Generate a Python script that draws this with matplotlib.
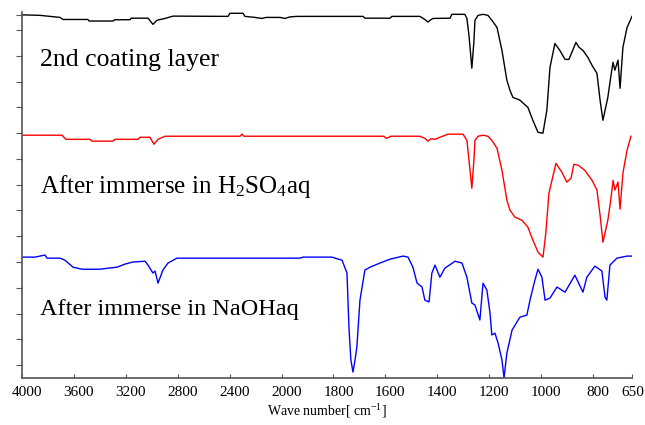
import numpy as np
import matplotlib
matplotlib.use("Agg")
import matplotlib.pyplot as plt
from matplotlib.transforms import ScaledTranslation

plt.rcParams['font.family'] = ['Liberation Serif', 'DejaVu Serif']
plt.rcParams['mathtext.fontset'] = 'custom'
plt.rcParams['mathtext.rm'] = 'Liberation Serif'
plt.rcParams['mathtext.it'] = 'Liberation Serif:italic'

# ------------------------------ Datos ------------------------------
# 2nd coating layer
wn_coat = [4000, 3861, 3784, 3707, 3684, 3492, 3484, 3299, 3284, 3168, 3160, 3029, 2991,
           2960, 2898, 2837, 2413, 2398, 2297, 2282, 2205, 2151, 2120, 2012, 1987, 1968,
           1941, 1686, 1679, 1582, 1575, 1467, 1448, 1436, 1428, 1417, 1351, 1344, 1294,
           1286, 1278, 1267, 1259, 1255, 1243, 1224, 1205, 1190, 1170, 1151, 1132, 1120,
           1109, 1082, 1051, 1032, 1012, 993, 978, 966, 947, 928, 908, 893, 866, 854, 839,
           820, 804, 785, 773, 762, 743, 731, 723, 716, 704, 696, 685, 669, 650]
t_coat = [140.9, 140.7, 140.3, 139.9, 139.1, 139.1, 138.5, 138.5, 139.0, 139.0, 139.6, 139.6,
          137.2, 138.8, 139.5, 140.4, 140.3, 141.5, 141.5, 140.3, 139.9, 139.5, 139.9, 139.9,
          139.5, 140.1, 140.3, 140.3, 139.6, 139.6, 140.3, 140.3, 139.1, 138.1, 138.8, 139.5,
          139.6, 141.1, 141.1, 139.5, 132.9, 120.2, 130.6, 138.8, 140.7, 141.1, 140.7, 138.8,
          136.0, 127.1, 115.5, 111.6, 108.9, 107.8, 105.0, 100.0, 95.3, 95.0, 103.9, 120.5,
          129.8, 127.1, 123.6, 123.6, 130.2, 128.3, 127.1, 124.4, 121.3, 118.2, 107.8, 100.0,
          108.9, 117.4, 122.5, 119.4, 123.3, 112.4, 128.3, 136.0, 140.3]

# After immerse in H2SO4aq
wn_acid = [4000, 3692, 3661, 3476, 3461, 3299, 3284, 3106, 3091, 3014, 2983, 2952, 2898,
           2321, 2305, 2290, 1606, 1598, 1586, 1579, 1467, 1448, 1436, 1425, 1409, 1390,
           1359, 1301, 1286, 1278, 1267, 1259, 1255, 1243, 1224, 1205, 1190, 1170, 1151,
           1132, 1120, 1101, 1074, 1051, 1032, 1012, 993, 982, 970, 943, 920, 901, 885,
           874, 858, 832, 804, 785, 773, 762, 743, 731, 723, 716, 704, 696, 685, 669, 654]
t_acid = [94.2, 94.2, 92.6, 92.6, 91.9, 91.9, 92.6, 92.6, 93.4, 93.4, 90.7, 92.6, 93.8,
          93.8, 94.6, 93.8, 93.8, 93.0, 93.4, 93.8, 93.8, 93.0, 91.9, 92.8, 92.6, 93.4,
          94.6, 94.6, 92.2, 84.5, 73.6, 84.5, 92.2, 93.8, 94.2, 93.8, 92.2, 89.1, 80.6,
          69.0, 65.1, 62.4, 61.2, 58.5, 53.5, 48.8, 46.9, 56.2, 71.7, 83.3, 79.8, 76.0, 77.5,
          82.9, 82.6, 80.6, 76.7, 72.9, 63.2, 52.7, 61.2, 69.8, 76.7, 72.9, 76.0, 65.5, 79.5,
          88.4, 93.8]

# After immerse in NaOHaq
wn_base = [4000, 3900, 3823, 3807, 3707, 3669, 3607, 3538, 3399, 3337, 3268, 3206, 3145,
           3052, 3029, 2991, 2975, 2952, 2914, 2875, 2806, 1929, 1918, 1806, 1794, 1767,
           1748, 1740, 1733, 1725, 1717, 1710, 1698, 1679, 1659, 1621, 1582, 1532, 1513,
           1494, 1478, 1459, 1448, 1432, 1421, 1409, 1390, 1371, 1332, 1305, 1286, 1267,
           1255, 1236, 1224, 1209, 1197, 1190, 1178, 1166, 1151, 1143, 1132, 1112, 1082,
           1055, 1043, 1024, 1012, 997, 985, 966, 939, 908, 870, 839, 824, 793, 766, 754,
           747, 735, 708, 669, 650]
t_base = [46.9, 46.9, 47.7, 46.5, 46.5, 45.7, 43.0, 42.2, 42.2, 42.6, 43.0, 44.2, 45.0,
          45.3, 43.8, 40.7, 41.5, 36.8, 41.9, 44.6, 46.5, 46.5, 46.9, 46.9, 46.5, 45.7,
          40.7, 18.6, 7.0, 2.3, 7.0, 12.0, 30.2, 41.9, 43.0, 44.6, 46.1, 47.3, 46.9,
          43.0, 36.8, 35.3, 30.2, 29.5, 40.7, 43.8, 39.1, 42.6, 45.3, 44.6, 39.1, 29.1,
          28.3, 22.5, 36.8, 34.1, 25.2, 16.7, 17.4, 13.6, 7.0, 0.0, 9.7, 18.6, 23.6,
          24.4, 30.2, 38.0, 42.2, 39.1, 30.2, 31.0, 35.3, 33.3, 39.9, 33.3, 39.1, 43.4, 41.5,
          31.4, 30.2, 43.8, 46.5, 47.3, 47.3]

labels = ['2nd coating layer', r'After immerse in H$\mathregular{_2}$SO$\mathregular{_4}$aq',
          'After immerse in NaOHaq']
xtick_vals = [4000, 3600, 3200, 2800, 2400, 2000, 1800, 1600, 1400, 1200, 1000, 800, 650]

# ------------------------------ Escala del eje X ------------------------------
# por encima de 2000 cm-1 la escala se comprime a la mitad
def fwd(x):
    x = np.asarray(x, dtype=float)
    return np.where(x > 2000, (x + 2000) / 2, x)

def inv(u):
    u = np.asarray(u, dtype=float)
    return np.where(u > 2000, 2 * u - 2000, u)

# ------------------------------ Grafica ------------------------------
fig = plt.figure(figsize=(6.45, 4.25), dpi=100)
ax = fig.add_axes([22/645, 47/425, 610/645, 366/425])

ax.plot(wn_coat, t_coat, color='black', lw=1.0)
ax.plot(wn_acid, t_acid, color='#ff0000', lw=1.0)
ax.plot(wn_base, t_base, color='#0000ff', lw=1.0)

ax.set_xscale('function', functions=(fwd, inv))
ax.set_xlim(4000, 650)
ax.set_ylim(0, 142)
ax.set_xticks(xtick_vals)
ax.set_xticklabels([str(v) for v in xtick_vals])
ax.minorticks_off()
ax.set_yticks(list(np.arange(5, 140, 10)) + [141])
ax.set_yticklabels([])

for s in ['top', 'right']:
    ax.spines[s].set_visible(False)
for s in ['left', 'bottom']:
    ax.spines[s].set_color('#555555')
    ax.spines[s].set_linewidth(1.2)

ax.tick_params(axis='x', direction='in', length=3, width=0.8, color='#555555',
               labelsize=11, pad=6)
ax.tick_params(axis='y', direction='out', length=4, width=0.8, color='#555555')

# etiquetas del eje x algo corridas a la derecha (la ultima debe caber)
ticklabs = ax.get_xticklabels()
for lab in ticklabs[:-1]:
    lab.set_transform(lab.get_transform() + ScaledTranslation(5/100, 0, fig.dpi_scale_trans))
ticklabs[-1].set_transform(ticklabs[-1].get_transform() + ScaledTranslation(1/100, 0, fig.dpi_scale_trans))

ax.set_xlabel('Wave number[ cm$^{-1}$]', fontsize=10, labelpad=2)

ax.text(3861, 123.3, labels[0], fontsize=18.5, ha='left', va='center')
ax.text(3861, 74.4, labels[1], fontsize=18, ha='left', va='center')
ax.text(3861, 26.4, labels[2], fontsize=17.5, ha='left', va='center')

fig.savefig('out.png', dpi=100)
